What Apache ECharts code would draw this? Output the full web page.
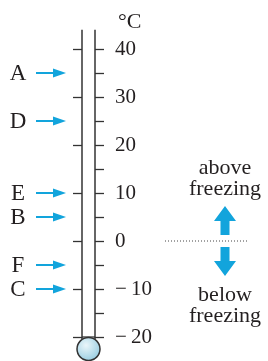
<!DOCTYPE html>
<html>
<head>
<meta charset="utf-8">
<script src="https://cdn.jsdelivr.net/npm/echarts@6/dist/echarts.min.js"></script>
<style>
  html, body { margin: 0; padding: 0; background: #fff; }
  #chart { width: 268px; height: 361px; }
</style>
</head>
<body>
<div id="chart"></div>
<script>
// readings marked on the thermometer
const letters = ['A', 'D', 'E', 'B', 'F', 'C'];
const readings = [35, 25, 10, 5, -5, -10];
// scale
const scaleMin = -20;
const scaleMax = 40;
const tubeTop = 44;
const freezing = 0;
const unitLabel = '°C';

const ink = '#231f20';
const blue = '#12a4dc';
const serif = 'Liberation Serif';

const chart = echarts.init(document.getElementById('chart'));

chart.setOption({
  animation: false,
  title: {
    text: unitLabel,
    left: 113,
    top: 6,
    textStyle: { fontFamily: serif, fontSize: 22, fontWeight: 'normal', color: ink }
  },
  grid: { left: 82, right: 173, top: 49, bottom: 24 },
  xAxis: { type: 'value', min: 0, max: 1, show: false },
  yAxis: [
    {
      // left side of the tube: ticks every 10
      type: 'value',
      position: 'left',
      min: scaleMin,
      max: scaleMax,
      interval: 10,
      axisLine: { show: false },
      axisTick: { show: true, length: 9, lineStyle: { color: '#333', width: 1.3 } },
      axisLabel: { show: false },
      splitLine: { show: false }
    },
    {
      // right side: ticks every 5, labels every 10
      type: 'value',
      position: 'right',
      min: scaleMin,
      max: scaleMax,
      interval: 10,
      axisLine: { show: false },
      axisTick: { show: true, length: 9, lineStyle: { color: '#333', width: 1.3 } },
      minorTick: { show: true, splitNumber: 2, length: 9, lineStyle: { color: '#333', width: 1.3 } },
      axisLabel: {
        margin: 20,
        fontFamily: serif,
        fontSize: 21,
        color: ink,
        formatter: function (v) {
          return v < 0 ? '\u2212\u2009' + Math.abs(v) : String(v);
        }
      },
      splitLine: { show: false }
    }
  ],
  series: [
    {
      // glass tube and bulb
      type: 'custom',
      clip: false,
      data: [[0, tubeTop]],
      renderItem: function (params, api) {
        const top = api.coord([0, api.value(1)]);
        const topR = api.coord([1, api.value(1)]);
        const bot = api.coord([0, scaleMin]);
        const x0 = top[0], x1 = topR[0];
        const cx = (x0 + x1) / 2;
        const r = 11.5;
        const cy = bot[1] + 12;
        const line = { stroke: '#333', lineWidth: 1.5 };
        return {
          type: 'group',
          children: [
            { type: 'line', shape: { x1: x0, y1: top[1], x2: x0, y2: cy - r + 2 }, style: line },
            { type: 'line', shape: { x1: x1, y1: top[1], x2: x1, y2: cy - r + 2 }, style: line },
            { type: 'line', shape: { x1: x0, y1: bot[1], x2: x1, y2: bot[1] }, style: { stroke: '#333', lineWidth: 1.3 } },
            {
              type: 'circle',
              shape: { cx: cx, cy: cy, r: r },
              style: {
                fill: new echarts.graphic.RadialGradient(0.4, 0.35, 0.7, [
                  { offset: 0, color: '#eaf6fa' },
                  { offset: 1, color: '#94cbe0' }
                ]),
                stroke: '#333',
                lineWidth: 1.5
              }
            }
          ]
        };
      }
    },
    {
      // lettered arrows pointing at readings
      type: 'custom',
      clip: false,
      data: readings.map(function (v, i) { return [0, v, letters[i]]; }),
      renderItem: function (params, api) {
        const p = api.coord([0, api.value(1)]);
        const x0 = p[0], y = p[1];
        const label = letters[params.dataIndex];
        return {
          type: 'group',
          children: [
            {
              type: 'text',
              style: {
                text: label, x: x0 - 64, y: y + 1,
                align: 'center', verticalAlign: 'middle',
                font: '23px ' + serif, fill: ink
              }
            },
            { type: 'line', shape: { x1: x0 - 46, y1: y, x2: x0 - 27, y2: y }, style: { stroke: blue, lineWidth: 2 } },
            { type: 'polygon', shape: { points: [[x0 - 29, y - 4.5], [x0 - 16, y], [x0 - 29, y + 4.5]] }, style: { fill: blue } }
          ]
        };
      }
    },
    {
      // freezing line with above / below arrows
      type: 'custom',
      clip: false,
      data: [[0, freezing]],
      renderItem: function (params, api) {
        const p = api.coord([0, api.value(1)]);
        const cx = p[0] + 143;
        const y0 = p[1];
        const txt = function (s, dy) {
          return {
            type: 'text',
            style: { text: s, x: cx, y: y0 + dy, align: 'center', verticalAlign: 'middle', font: '22px ' + serif, fill: ink }
          };
        };
        return {
          type: 'group',
          children: [
            { type: 'line', shape: { x1: cx - 60, y1: y0, x2: cx + 22, y2: y0 }, style: { stroke: '#444', lineWidth: 1, lineDash: [1, 2] } },
            {
              type: 'polygon',
              shape: { points: [[cx - 4.5, y0 - 6], [cx - 4.5, y0 - 20], [cx - 11, y0 - 20], [cx, y0 - 35], [cx + 11, y0 - 20], [cx + 4.5, y0 - 20], [cx + 4.5, y0 - 6]] },
              style: { fill: blue }
            },
            {
              type: 'polygon',
              shape: { points: [[cx - 4.5, y0 + 6], [cx - 4.5, y0 + 20], [cx - 11, y0 + 20], [cx, y0 + 35], [cx + 11, y0 + 20], [cx + 4.5, y0 + 20], [cx + 4.5, y0 + 6]] },
              style: { fill: blue }
            },
            txt('above', -73),
            txt('freezing', -52),
            txt('below', 54),
            txt('freezing', 75)
          ]
        };
      }
    }
  ]
});
</script>
</body>
</html>
